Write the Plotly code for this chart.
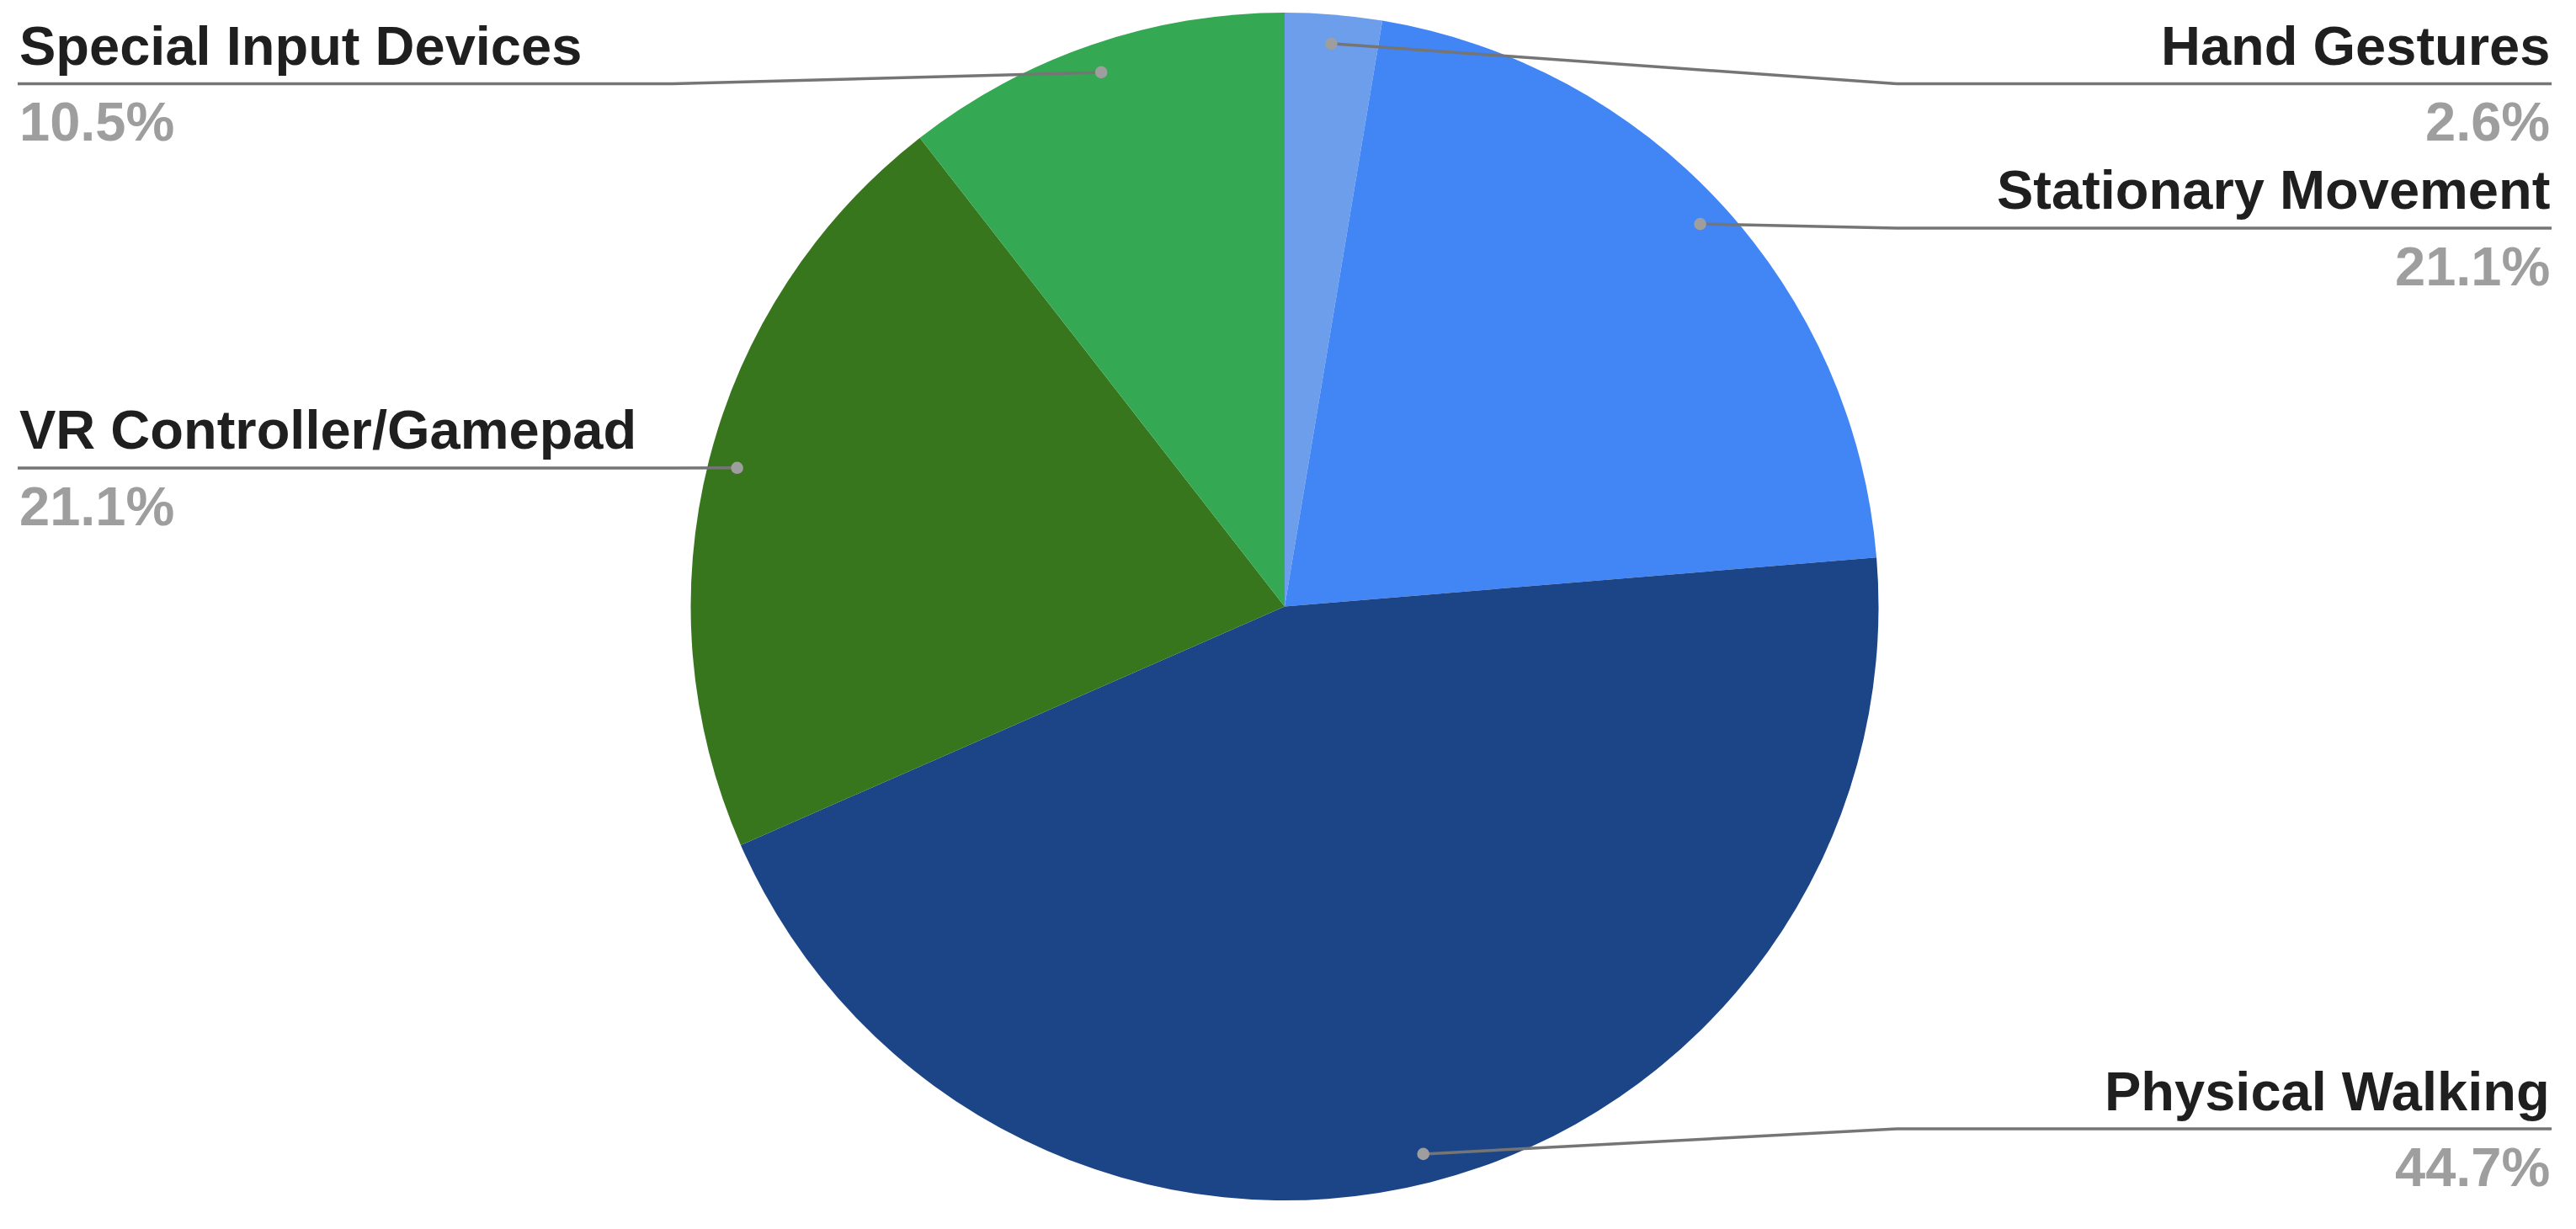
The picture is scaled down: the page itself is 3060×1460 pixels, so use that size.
import math
import plotly.graph_objects as go

# ---- data ----
labels = ["Hand Gestures", "Stationary Movement", "Physical Walking",
          "VR Controller/Gamepad", "Special Input Devices"]
counts = [1, 8, 17, 8, 4]
colors = ["#6d9eeb", "#4285f4", "#1c4587", "#38761d", "#34a853"]

# ---- layout (pixels) ----
W, H = 3060, 1460
CX, CY, R = 1526, 720.5, 705.5
label_side = ["right", "right", "right", "left", "left"]
label_line_y = [99.5, 271, 1341, 556, 99.5]
LEFT_X, RIGHT_X = 21, 3031
ELBOW = 727
DOT_R = 7.3
DOT_FRAC = 0.951

def px(x):
    return x / W

def py(y):
    return 1 - y / H

fig = go.Figure(go.Pie(
    labels=labels, values=counts, sort=False, direction="clockwise",
    rotation=0, marker=dict(colors=colors, line=dict(width=0)),
    textinfo="none", hoverinfo="label+percent", showlegend=False,
    domain=dict(x=[px(CX - R), px(CX + R)], y=[py(CY + R), py(CY - R)]),
))

total = sum(counts)
shapes, annotations = [], []
cum = 0
for lab, v, side, ly in zip(labels, counts, label_side, label_line_y):
    mid = (cum + v / 2) / total * 2 * math.pi
    cum += v
    dx = CX + DOT_FRAC * R * math.sin(mid)
    dy = CY - DOT_FRAC * R * math.cos(mid)
    pct = f"{v / total * 100:.1f}%"
    if side == "right":
        ex = CX + ELBOW
        pts = [(dx, dy), (ex, ly), (RIGHT_X, ly)]
        tx, anchor = RIGHT_X, "right"
    else:
        ex = min(CX - ELBOW, dx)
        pts = [(dx, dy), (ex, ly), (LEFT_X, ly)]
        tx, anchor = LEFT_X, "left"
    for (x0, y0), (x1, y1) in zip(pts[:-1], pts[1:]):
        shapes.append(dict(type="line", xref="paper", yref="paper",
                           x0=px(x0), y0=py(y0), x1=px(x1), y1=py(y1),
                           line=dict(color="#757575", width=3.5)))
    shapes.append(dict(type="circle", xref="paper", yref="paper",
                       x0=px(dx - DOT_R), x1=px(dx + DOT_R),
                       y0=py(dy + DOT_R), y1=py(dy - DOT_R),
                       fillcolor="#9e9e9e", line=dict(width=0)))
    annotations.append(dict(xref="paper", yref="paper", x=px(tx), y=py(ly - 45),
                            xanchor=anchor, yanchor="middle", showarrow=False,
                            text=lab, font=dict(family="Liberation Sans", size=65,
                                                color="#1f1f1f", weight="bold")))
    annotations.append(dict(xref="paper", yref="paper", x=px(tx), y=py(ly + 45),
                            xanchor=anchor, yanchor="middle", showarrow=False,
                            text=pct, font=dict(family="Liberation Sans", size=65,
                                                color="#9e9e9e", weight="bold")))

fig.update_layout(width=W, height=H, margin=dict(l=0, r=0, t=0, b=0),
                  paper_bgcolor="white", plot_bgcolor="white",
                  shapes=shapes, annotations=annotations)
fig.write_html("out.html", config={"displayModeBar": False},
               post_script="document.body.style.margin='0';"
                           "document.body.style.overflow='hidden';")
